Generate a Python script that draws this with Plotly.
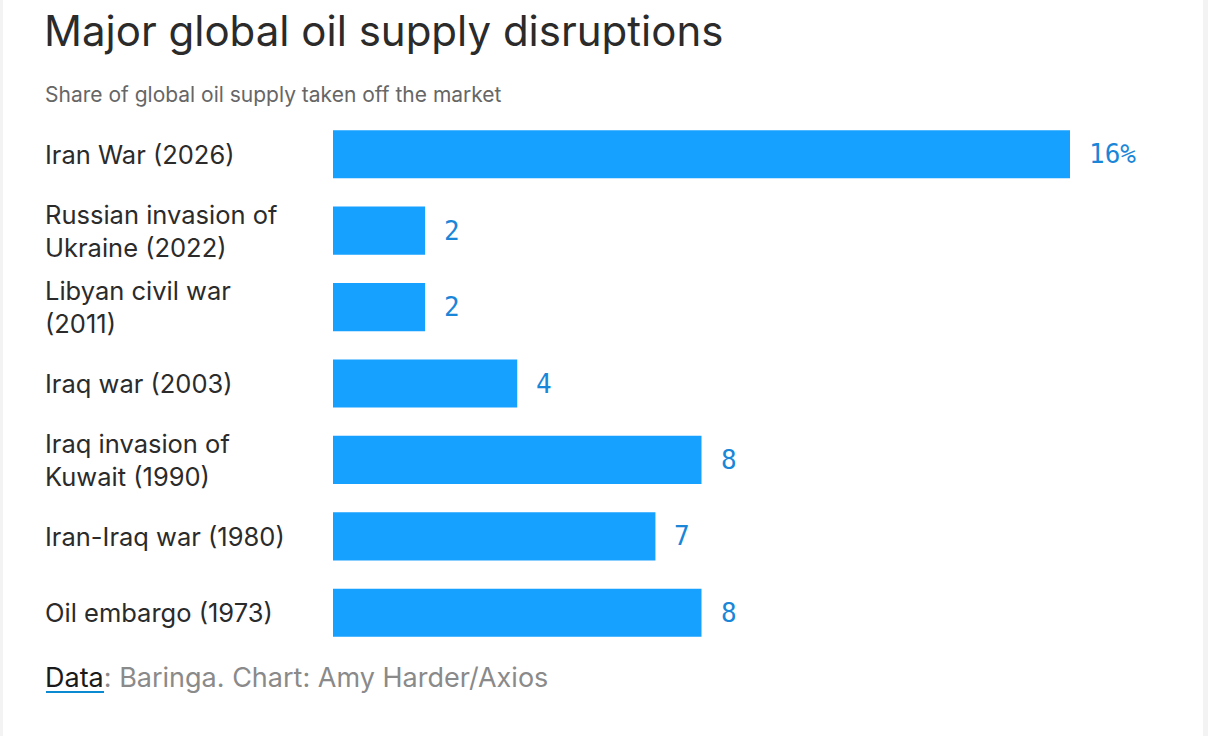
import plotly.graph_objects as go

# ---- data ----
events = [
    "Iran War (2026)",
    "Russian invasion of<br>Ukraine (2022)",
    "Libyan civil war<br>(2011)",
    "Iraq war (2003)",
    "Iraq invasion of<br>Kuwait (1990)",
    "Iran-Iraq war (1980)",
    "Oil embargo (1973)",
]
share_pct = [16, 2, 2, 4, 8, 7, 8]
value_labels = ["16%", "2", "2", "4", "8", "7", "8"]

TITLE = "Major global oil supply disruptions"
SUBTITLE = "Share of global oil supply taken off the market"

# ---- layout geometry ----
W, H = 1208, 736
L, R, T, B = 333, 138, 116, 85
PW, PH = W - L - R, H - T - B

def px_x(px):
    return (px - L) / PW

def px_y(py):
    return (H - B - py) / PH

BAR_COLOR = "#16a0ff"
VALUE_COLOR = "#1a86d8"
LABEL_COLOR = "#2b2b2b"
FONT = "Inter"

fig = go.Figure()
fig.add_trace(go.Bar(
    x=share_pct,
    y=events,
    orientation="h",
    marker=dict(color=BAR_COLOR, line=dict(width=0)),
    hoverinfo="skip",
))

annotations = []
# category labels, left aligned
for ev in events:
    annotations.append(dict(
        x=px_x(43), xref="paper", y=ev, yref="y",
        text=ev, showarrow=False, xanchor="left", yanchor="middle",
        align="left", font=dict(family=FONT, size=25.5, color=LABEL_COLOR),
    ))
# value labels
for ev, v, lab in zip(events, share_pct, value_labels):
    annotations.append(dict(
        x=v, xref="x", y=ev, yref="y", text=lab, showarrow=False,
        xanchor="left", yanchor="middle", xshift=17,
        font=dict(family="DejaVu Sans Mono", size=26, color=VALUE_COLOR),
    ))
# subtitle
annotations.append(dict(
    x=px_x(43), xref="paper", y=px_y(95), yref="paper", text=SUBTITLE,
    showarrow=False, xanchor="left", yanchor="middle",
    font=dict(family=FONT, size=21, color="#666666"),
))
# footer
annotations.append(dict(
    x=px_x(43), xref="paper", y=px_y(677), yref="paper",
    text="<span style='color:#1a1a1a'>Data</span>: Baringa. Chart: Amy Harder/Axios",
    showarrow=False, xanchor="left", yanchor="middle",
    font=dict(family=FONT, size=27, color="#8a8a8a"),
))

shapes = [
    # underline of "Data"
    dict(type="line", xref="paper", yref="paper",
         x0=px_x(46), x1=px_x(104), y0=px_y(692), y1=px_y(692),
         line=dict(color="#0a8ad0", width=2)),
    # light side strips
    dict(type="rect", xref="paper", yref="paper", layer="below",
         x0=px_x(0), x1=px_x(3), y0=px_y(H), y1=px_y(0),
         fillcolor="#f3f3f3", line=dict(width=0)),
    dict(type="rect", xref="paper", yref="paper", layer="below",
         x0=px_x(1203), x1=px_x(W), y0=px_y(H), y1=px_y(0),
         fillcolor="#f3f3f3", line=dict(width=0)),
]

fig.update_layout(
    width=W, height=H,
    margin=dict(l=L, r=R, t=T, b=B, pad=0),
    paper_bgcolor="white", plot_bgcolor="white",
    showlegend=False,
    bargap=0.37,
    title=dict(text=TITLE, x=44 / W, xanchor="left", xref="container",
               y=1 - 31 / H, yanchor="middle", yref="container",
               font=dict(family=FONT, size=42, color="#2b2b2b")),
    xaxis=dict(range=[0, 16], visible=False, fixedrange=True),
    yaxis=dict(categoryorder="array", categoryarray=events,
               autorange="reversed", visible=False, fixedrange=True),
    annotations=annotations,
    shapes=shapes,
)

fig.write_html("out.html",
               config={"displayModeBar": False, "staticPlot": True},
               post_script="document.body.style.margin='0';document.body.style.overflow='hidden';")
